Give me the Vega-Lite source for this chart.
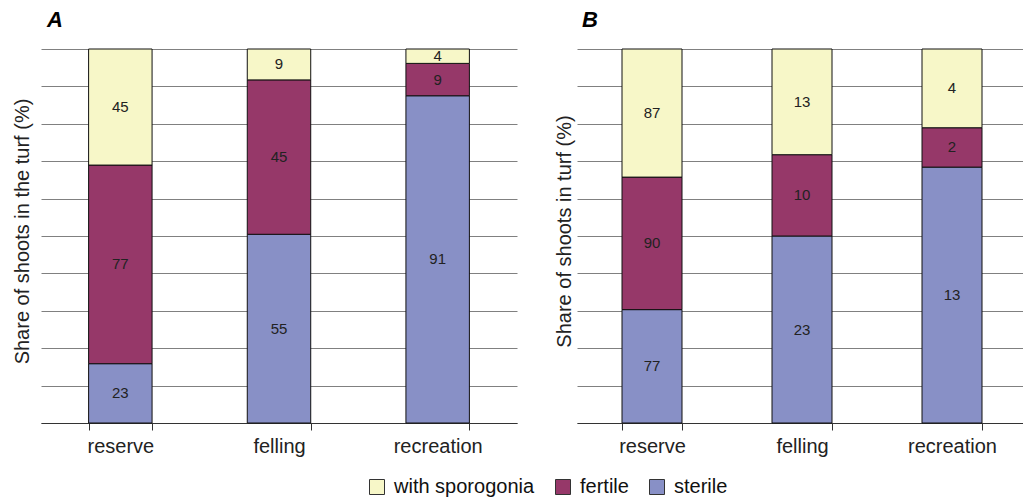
{
  "$schema": "https://vega.github.io/schema/vega-lite/v6.json",
  "background": "white",
  "padding": {"left": 12, "top": 8, "right": -4, "bottom": 0},
  "datasets": {
    "A": [
      {"site": "reserve", "type": "sterile", "n": 23},
      {"site": "reserve", "type": "fertile", "n": 77},
      {"site": "reserve", "type": "with sporogonia", "n": 45},
      {"site": "felling", "type": "sterile", "n": 55},
      {"site": "felling", "type": "fertile", "n": 45},
      {"site": "felling", "type": "with sporogonia", "n": 9},
      {"site": "recreation", "type": "sterile", "n": 91},
      {"site": "recreation", "type": "fertile", "n": 9},
      {"site": "recreation", "type": "with sporogonia", "n": 4}
    ],
    "B": [
      {"site": "reserve", "type": "sterile", "n": 77},
      {"site": "reserve", "type": "fertile", "n": 90},
      {"site": "reserve", "type": "with sporogonia", "n": 87},
      {"site": "felling", "type": "sterile", "n": 23},
      {"site": "felling", "type": "fertile", "n": 10},
      {"site": "felling", "type": "with sporogonia", "n": 13},
      {"site": "recreation", "type": "sterile", "n": 13},
      {"site": "recreation", "type": "fertile", "n": 2},
      {"site": "recreation", "type": "with sporogonia", "n": 4}
    ]
  },
  "config": {
    "font": "Liberation Sans",
    "view": {"stroke": null},
    "axis": {"labelFont": "Liberation Sans", "titleFont": "Liberation Sans"},
    "legend": {"labelFont": "Liberation Sans"}
  },
  "align": "none",
  "bounds": "flush",
  "spacing": 60,
  "resolve": {"scale": {"color": "independent"}, "legend": {"color": "independent"}},
  "hconcat": [
    {
      "width": 476,
      "height": 374,
      "data": {"name": "A"},
      "transform": [{"calculate": "indexof(['sterile','fertile','with sporogonia'], datum.type)", "as": "k"}],
      "title": {"text": "A", "anchor": "start", "frame": "group", "fontSize": 22, "fontWeight": "bold", "fontStyle": "italic", "color": "#000", "offset": 17, "dx": 6},
      "encoding": {
        "x": {
          "field": "site", "type": "nominal", "sort": ["reserve", "felling", "recreation"],
          "scale": {"paddingInner": 0.6, "paddingOuter": 0.3},
          "axis": {"title": null, "labelAngle": 0, "labelFontSize": 20, "labelColor": "#222", "labelPadding": 6, "tickBand": "extent", "tickSize": 7, "tickColor": "#333", "domainColor": "#333", "grid": false}
        },
        "y": {
          "field": "n", "type": "quantitative", "stack": "normalize",
          "scale": {"domain": [0, 1]},
          "axis": {"title": "Share of shoots in the turf (%)", "titleFontSize": 20, "titleFontWeight": "normal", "titleColor": "#222", "titlePadding": 9, "titleY": 182, "labels": false, "ticks": false, "domain": false, "values": [0, 0.1, 0.2, 0.3, 0.4, 0.5, 0.6, 0.7, 0.8, 0.9, 1], "gridColor": "#808080", "gridOpacity": 1}
        },
        "order": {"field": "k", "type": "quantitative"}
      },
      "layer": [
        {
          "mark": {"type": "bar", "stroke": "#111", "strokeWidth": 1},
          "encoding": {
            "color": {
              "field": "type", "type": "nominal",
              "scale": {"domain": ["with sporogonia", "fertile", "sterile"], "range": ["#F7F7C8", "#963869", "#8890C6"]},
              "legend": null
            }
          }
        },
        {
          "mark": {"type": "text", "fontSize": 15, "color": "#222", "baseline": "middle"},
          "encoding": {
            "y": {"field": "n", "type": "quantitative", "stack": "normalize", "bandPosition": 0.5},
            "detail": {"field": "type", "type": "nominal"},
            "text": {"field": "n", "type": "quantitative"}
          }
        }
      ]
    },
    {
      "width": 450,
      "height": 374,
      "data": {"name": "B"},
      "transform": [{"calculate": "indexof(['sterile','fertile','with sporogonia'], datum.type)", "as": "k"}],
      "title": {"text": "B", "anchor": "start", "frame": "group", "fontSize": 22, "fontWeight": "bold", "fontStyle": "italic", "color": "#000", "offset": 17, "dx": 5},
      "encoding": {
        "x": {
          "field": "site", "type": "nominal", "sort": ["reserve", "felling", "recreation"],
          "scale": {"paddingInner": 0.6, "paddingOuter": 0.3},
          "axis": {"title": null, "labelAngle": 0, "labelFontSize": 20, "labelColor": "#222", "labelPadding": 6, "tickBand": "extent", "tickSize": 7, "tickColor": "#333", "domainColor": "#333", "grid": false}
        },
        "y": {
          "field": "n", "type": "quantitative", "stack": "normalize",
          "scale": {"domain": [0, 1]},
          "axis": {"title": "Share of shoots in turf (%)", "titleFontSize": 20, "titleFontWeight": "normal", "titleColor": "#222", "titlePadding": 3, "titleY": 182, "labels": false, "ticks": false, "domain": false, "values": [0, 0.1, 0.2, 0.3, 0.4, 0.5, 0.6, 0.7, 0.8, 0.9, 1], "gridColor": "#808080", "gridOpacity": 1}
        },
        "order": {"field": "k", "type": "quantitative"}
      },
      "layer": [
        {
          "mark": {"type": "bar", "stroke": "#111", "strokeWidth": 1},
          "encoding": {
            "color": {
              "field": "type", "type": "nominal",
              "scale": {"domain": ["with sporogonia", "fertile", "sterile"], "range": ["#F7F7C8", "#963869", "#8890C6"]},
              "legend": {"title": null, "orient": "none", "legendX": -210, "legendY": 428, "direction": "horizontal", "labelFontSize": 20, "labelColor": "#111", "symbolType": "square", "symbolSize": 225, "symbolStrokeColor": "#333", "symbolStrokeWidth": 1, "columnPadding": 18, "labelOffset": 7}
            }
          }
        },
        {
          "mark": {"type": "text", "fontSize": 15, "color": "#222", "baseline": "middle"},
          "encoding": {
            "y": {"field": "n", "type": "quantitative", "stack": "normalize", "bandPosition": 0.5},
            "detail": {"field": "type", "type": "nominal"},
            "text": {"field": "n", "type": "quantitative"}
          }
        }
      ]
    }
  ]
}
